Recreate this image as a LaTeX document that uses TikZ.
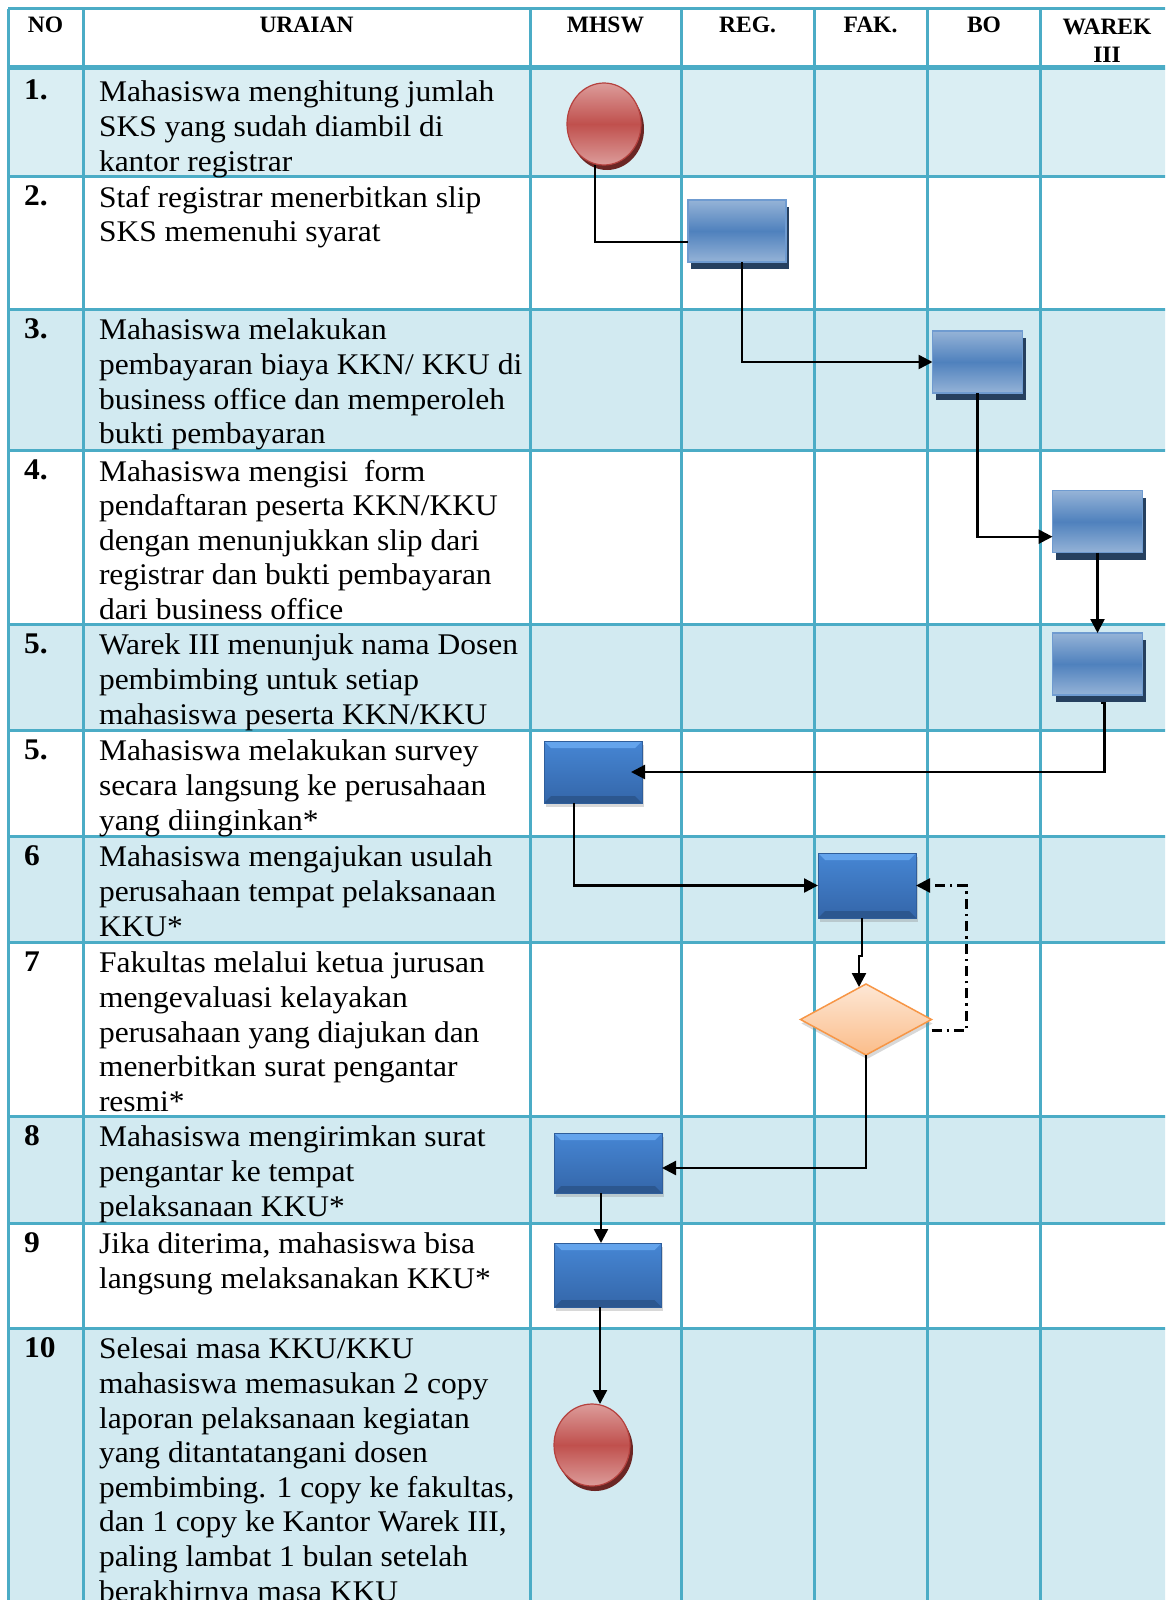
\documentclass[tikz,border=0pt]{standalone}
\usepackage{fontspec}
\setmainfont{Liberation Serif}[FakeStretch=1.05]
\newfontfamily\headfont{Liberation Serif}
\usetikzlibrary{arrows.meta,positioning,shapes.geometric,shadows}
\definecolor{gridteal}{HTML}{4BACC6}
\definecolor{rowblue}{HTML}{D2EAF1}
\definecolor{firstrow}{HTML}{DAEEF3}
\definecolor{glosslight}{HTML}{95B3D7}
\definecolor{glossmid}{HTML}{4F81BD}
\definecolor{glossedge}{HTML}{6F9BD0}
\definecolor{navyshadow}{HTML}{26405F}
\definecolor{redlight}{HTML}{DC9C9A}
\definecolor{redmid}{HTML}{C0504D}
\definecolor{rededge}{HTML}{B5413E}
\definecolor{redshadow}{HTML}{6B2624}
\definecolor{solidtop}{HTML}{4686D4}
\definecolor{solidbot}{HTML}{3466A9}
\definecolor{solidedge}{HTML}{2F5E9B}
\definecolor{bevellight}{HTML}{64A4EC}
\definecolor{beveldark}{HTML}{2C578F}
\definecolor{checkline}{HTML}{F79646}
\definecolor{checktop}{HTML}{FDE7D5}
\definecolor{checkbot}{HTML}{FBBD8A}
\pgfdeclareverticalshading{glossblue}{100bp}{color(0bp)=(glosslight);color(25bp)=(glosslight);color(50bp)=(glossmid);color(75bp)=(glosslight);color(100bp)=(glosslight)}
\pgfdeclareverticalshading{glossred}{100bp}{color(0bp)=(redlight);color(25bp)=(redlight);color(50bp)=(redmid);color(75bp)=(redlight);color(100bp)=(redlight)}

\begin{document}
\begin{tikzpicture}[x=1pt,y=-1pt,every node/.style={inner sep=0pt,outer sep=0pt},
  tableline/.style={draw=gridteal,line width=3pt},
  headtext/.style={anchor=north,align=center,yshift=20pt,execute at begin node={\rule{0pt}{20pt}},font=\headfont\bfseries\fontsize{23.5}{28}\selectfont},
  rownum/.style={anchor=base west,font=\bfseries\fontsize{30}{34.6}\selectfont},
  rowtext/.style={anchor=north west,align=left,yshift=19pt,execute at begin node={\rule{0pt}{28pt}},font=\fontsize{30}{34.6}\selectfont},
  stepbox/.style={draw=glossedge,line width=1.5pt,shading=glossblue,minimum width=90pt,minimum height=62pt,drop shadow={shadow xshift=3pt,shadow yshift=-7pt,fill=navyshadow,opacity=1}},
  solidbox/.style={draw=solidedge,line width=.8pt,top color=solidtop,bottom color=solidbot,minimum width=98pt,minimum height=62pt,drop shadow={opacity=.3,shadow xshift=1.5pt,shadow yshift=-4pt},
    path picture={
      \fill[bevellight] (path picture bounding box.north west)--(path picture bounding box.north east)--([xshift=-7pt,yshift=-7pt]path picture bounding box.north east)--([xshift=7pt,yshift=-7pt]path picture bounding box.north west)--cycle;
      \fill[beveldark] (path picture bounding box.south west)--(path picture bounding box.south east)--([xshift=-7pt,yshift=7pt]path picture bounding box.south east)--([xshift=7pt,yshift=7pt]path picture bounding box.south west)--cycle;}},
  endcircle/.style={ellipse,draw=rededge,line width=1.2pt,shading=glossred,minimum width=74pt,minimum height=82pt,drop shadow={shadow xshift=3pt,shadow yshift=-5pt,fill=redshadow,opacity=1}},
  checkdiamond/.style={diamond,draw=checkline,line width=1.5pt,top color=checktop,bottom color=checkbot,minimum width=131pt,minimum height=71pt,drop shadow={opacity=.3,shadow xshift=1pt,shadow yshift=-4pt}},
  flowline/.style={line width=2.4pt},
  flowarrow/.style={-{Triangle[length=14pt,width=14pt]},line width=2.4pt},
  dashdotline/.style={dash pattern=on 10pt off 5pt on 2.4pt off 5pt}]
\useasboundingbox (0,0) rectangle (1165,1600);
\clip (0,0) rectangle (1165,1600);
\fill[white] (0,0) rectangle (1165,1600);
\fill[firstrow] (8,68) rectangle (1174,176);
\foreach \rt/\rb in {309/450,624/730,836/942,1116/1223,1328/1640}
  \fill[rowblue] (8,\rt) rectangle (1174,\rb);
\foreach \cx in {8,83,530,681,814,927.5,1040.5,1174}
  \draw[tableline] (\cx,9)--(\cx,1640);
\foreach \ry in {9,176,309,450,624,730,836,942,1116,1223,1328}
  \draw[tableline] (8,\ry)--(1174,\ry);
\draw[tableline,line width=5pt] (8,68)--(1174,68);

\node[headtext] (h1) at (45.5,33) {NO};
\node[headtext] (h2) at (306.5,33) {URAIAN};
\node[headtext] (h3) at (605.5,33) {MHSW};
\node[headtext] (h4) at (747.5,33) {REG.};
\node[headtext] (h5) at (870.5,33) {FAK.};
\node[headtext] (h6) at (984,33) {BO};
\node[headtext,yshift=-6pt] (h7) at (1107,33) {WAREK\\III};

\node[rownum] (n1) at (24,100) {1.};
\node[rowtext] (t1) at (99,100) {Mahasiswa menghitung jumlah\\SKS yang sudah diambil di\\kantor registrar};
\node[rownum] (n2) at (24,205) {2.};
\node[rowtext] (t2) at (99,205) {Staf registrar menerbitkan slip\\SKS memenuhi syarat};
\node[rownum] (n3) at (24,338) {3.};
\node[rowtext] (t3) at (99,338) {Mahasiswa melakukan\\pembayaran biaya KKN/ KKU di\\business office dan memperoleh\\bukti pembayaran};
\node[rownum] (n4) at (24,479) {4.};
\node[rowtext] (t4) at (99,479) {Mahasiswa mengisi~ form\\pendaftaran peserta KKN/KKU\\dengan menunjukkan slip dari\\registrar dan bukti pembayaran\\dari business office};
\node[rownum] (n5) at (24,653) {5.};
\node[rowtext] (t5) at (99,653) {Warek III menunjuk nama Dosen\\pembimbing untuk setiap\\mahasiswa peserta KKN/KKU};
\node[rownum] (n6) at (24,759) {5.};
\node[rowtext] (t6) at (99,759) {Mahasiswa melakukan survey\\secara langsung ke perusahaan\\yang diinginkan*};
\node[rownum] (n7) at (24,865) {6};
\node[rowtext] (t7) at (99,865) {Mahasiswa mengajukan usulah\\perusahaan tempat pelaksanaan\\KKU*};
\node[rownum] (n8) at (24,971) {7};
\node[rowtext] (t8) at (99,971) {Fakultas melalui ketua jurusan\\mengevaluasi kelayakan\\perusahaan yang diajukan dan\\menerbitkan surat pengantar\\resmi*};
\node[rownum] (n9) at (24,1145) {8};
\node[rowtext] (t9) at (99,1145) {Mahasiswa mengirimkan surat\\pengantar ke tempat\\pelaksanaan KKU*};
\node[rownum] (n10) at (24,1252) {9};
\node[rowtext] (t10) at (99,1252) {Jika diterima, mahasiswa bisa\\langsung melaksanakan KKU*};
\node[rownum] (n11) at (24,1357) {10};
\node[rowtext] (t11) at (99,1357) {Selesai masa KKU/KKU\\mahasiswa memasukan 2 copy\\laporan pelaksanaan kegiatan\\yang ditantatangani dosen\\pembimbing. 1 copy ke fakultas,\\dan 1 copy ke Kantor Warek III,\\paling lambat 1 bulan setelah\\berakhirnya masa KKU};

\node[endcircle] (s1) at (604,124) {};
\node[stepbox,minimum width=98pt] (s2) at (737,231) {};
\node[stepbox] (s3) at (977.5,362) {};
\node[stepbox] (s4) at (1097.5,521.7) {};
\node[stepbox] (s5) at (1097.5,664) {};
\node[solidbox] (s6) at (593,772) {};
\node[solidbox,minimum height=65pt] (s7) at (867,885.5) {};
\node[checkdiamond] (s8) at (866,1019.5) {};
\node[solidbox,minimum width=108pt,minimum height=60pt] (s9) at (608,1163) {};
\node[solidbox,minimum width=107pt,minimum height=64pt] (s10) at (608,1275) {};
\node[endcircle,minimum width=76pt] (s11) at (592,1445) {};

\draw[flowline] ([xshift=-9pt]s1.south) |- ([yshift=-11pt]s2.west);
\draw[flowarrow] ([xshift=5pt]s2.south) |- (s3.west);
\draw[flowarrow] (s3.south) |- ([yshift=-15pt]s4.west);
\draw[flowarrow] (s4.south)--(s5.north);
\draw[flowarrow,shorten >=-11pt] ([xshift=3pt,yshift=-8pt]s5.south)--++(4,0) |- (s6.east);
\draw[flowarrow] ([xshift=-19pt]s6.south) |- (s7.west);
\draw[flowarrow] ([xshift=-5pt]s7.south)--++(0,38) -| ([xshift=-7pt,yshift=-3pt]s8.north);
\draw[flowarrow,dashdotline] ([yshift=-11pt]s8.east)--++(35,0) |- (s7.east);
\draw[flowarrow] (s8.south) |- ([yshift=-5pt]s9.east);
\draw[flowarrow] ([xshift=-7pt]s9.south)--([xshift=-7pt]s10.north);
\draw[flowarrow] ([xshift=-8pt]s10.south)--([xshift=8pt]s11.north);
\end{tikzpicture}
\end{document}
